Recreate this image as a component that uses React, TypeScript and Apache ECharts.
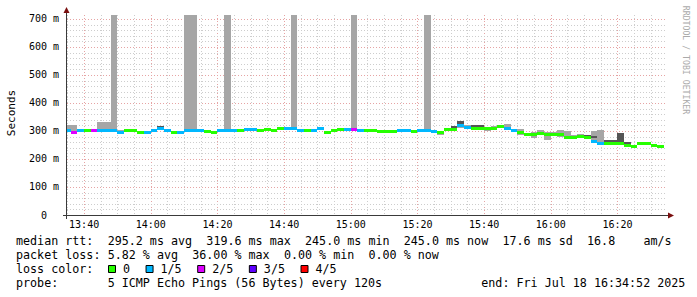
import React, { useEffect, useRef } from "react";
import * as echarts from "echarts";

// ---------------- data ----------------
const firstBin = "13:34";
const binMinutes = 2;
const viewStart = "13:34:52";
const viewEnd = "16:34:52";
const xTickLabels = ["13:40", "14:00", "14:20", "14:40", "15:00", "15:20", "15:40", "16:00", "16:20"];
const yTickValues = [0, 100, 200, 300, 400, 500, 600, 700];
const yMaxMs = 714;

// median rtt per 2-minute bin (ms)
const medianMs = [
  302, 296, 301, 301, 301, 301, 301, 303, 296, 301,
  300, 296, 296, 300, 309, 300, 296, 296, 303, 303,
  302, 297, 295, 300, 303, 301, 301, 305, 305, 302,
  304, 303, 308, 309, 309, 303, 303, 303, 308, 296,
  301, 306, 306, 304, 301, 302, 302, 298, 298, 299,
  300, 300, 299, 300, 300, 298, 293, 304, 307, 320,
  312, 309, 309, 308, 308, 316, 310, 300, 296, 287,
  288, 292, 288, 289, 289, 276, 278, 280, 276, 262,
  255, 257, 257, 257, 248, 246, 255, 255, 249, 245,
];
// lost pings (of 5) per bin
const lossCount = [
  1, 2, 1, 0, 2, 1, 1, 1, 1, 0,
  0, 0, 1, 1, 1, 1, 0, 1, 1, 1,
  1, 0, 0, 1, 1, 1, 0, 1, 1, 0,
  0, 0, 0, 1, 1, 1, 0, 1, 1, 0,
  0, 0, 1, 2, 1, 0, 0, 0, 0, 0,
  1, 1, 0, 1, 1, 1, 0, 0, 0, 1,
  1, 0, 0, 0, 0, 0, 1, 1, 0, 0,
  0, 0, 0, 0, 0, 0, 0, 0, 0, 1,
  1, 0, 0, 0, 0, 0, 0, 0, 0, 0,
];
// smoke (outer ping spread) per bin, ms
const smokeHiMs = [
  322, 321, 306, 306, 306, 333, 333, 760, 303, 304,
  307, 300, 300, 303, 318, 303, 300, 300, 760, 760,
  305, 301, 299, 303, 760, 304, 304, 308, 308, 305,
  307, 306, 311, 312, 760, 306, 306, 306, 311, 300,
  304, 309, 309, 760, 304, 305, 305, 301, 301, 303,
  303, 303, 302, 303, 760, 301, 299, 308, 316, 334,
  322, 321, 321, 315, 318, 320, 325, 306, 308, 292,
  298, 302, 298, 296, 302, 299, 284, 288, 283, 299,
  304, 268, 266, 292, 260, 249, 258, 258, 252, 248,
];
const smokeLoMs = [
  297, 293, 298, 298, 298, 298, 298, 299, 293, 298,
  297, 293, 293, 297, 303, 297, 293, 293, 299, 299,
  299, 294, 292, 297, 300, 298, 298, 302, 302, 299,
  301, 300, 304, 306, 305, 299, 300, 300, 304, 293,
  298, 302, 302, 300, 297, 298, 298, 295, 293, 296,
  297, 297, 296, 297, 297, 294, 286, 300, 304, 311,
  306, 306, 302, 300, 304, 312, 307, 297, 284, 284,
  274, 287, 268, 286, 280, 273, 274, 277, 273, 258,
  252, 254, 254, 254, 245, 243, 252, 252, 246, 242,
];
// inner (darker) smoke: [bin, lo, hi]
const darkSmoke = [
  [14, 309, 318], [23, 297, 299], [58, 307, 316], [59, 322, 334], [61, 315, 321],
  [62, 302, 321], [64, 306, 314], [72, 288, 294], [78, 276, 284], [79, 274, 283],
  [81, 258, 268], [82, 261, 266], [83, 262, 291], [84, 249, 260],
];
const lossColors = ["#26ff00", "#00b8ff", "#dd00ff", "#5e00ff", "#ff0000"];
const lossLabels = ["0", "1/5", "2/5", "3/5", "4/5"];
const yAxisTitle = "Seconds";
const watermark = "RRDTOOL / TOBI OETIKER";
const legendRows: [string, number][][] = [
  [["median rtt:", 0], ["295.2 ms avg", 13], ["319.6 ms max", 27], ["245.0 ms min", 41], ["245.0 ms now", 55], ["17.6 ms sd", 69], ["16.8", 81], ["am/s", 89]],
  [["packet loss:", 0], ["5.82 % avg", 13], ["36.00 % max", 25], ["0.00 % min", 38], ["0.00 % now", 50]],
  [["loss color:", 0]],
  [["probe:", 0], ["5 ICMP Echo Pings (56 Bytes) every 120s", 13], ["end: Fri Jul 18 16:34:52 2025", 66]],
];

// ---------------- helpers ----------------
const MONO = "'DejaVu Sans Mono', monospace";
const toMin = (t: string) => {
  const [h, m, s] = t.split(":").map(Number);
  return h * 60 + m + (s || 0) / 60;
};
const fmt = (v: number) => {
  const r = Math.round(v);
  return String(Math.floor(r / 60)).padStart(2, "0") + ":" + String(r % 60).padStart(2, "0");
};

export default function App() {
  const ref = useRef<HTMLDivElement>(null);
  useEffect(() => {
    if (!ref.current) return;
    const chart = echarts.init(ref.current, null, { renderer: "svg" });
    const xMin = toMin(viewStart);
    const xMax = toMin(viewEnd);
    const bin0 = toMin(firstBin);
    const binStart = medianMs.map((_, i) => bin0 + i * binMinutes);

    const majorX = xTickLabels.map(toMin);
    const gridItems: number[][] = [];
    for (let v = Math.ceil(xMin / 5) * 5; v < xMax; v += 5) {
      gridItems.push([0, v, majorX.includes(v) ? 1 : 0]);
    }
    for (let v = 20; v <= 700; v += 20) gridItems.push([1, v, v % 100 === 0 ? 1 : 0]);

    const rectItem = (params: any, api: any, x0v: number, x1v: number, lo: number, hi: number, fill: string) => {
      const a = api.coord([x0v, hi]);
      const b = api.coord([x1v, lo]);
      const x0 = Math.round(a[0]);
      const x1 = Math.round(b[0]);
      const y0 = Math.round(a[1]);
      const y1 = Math.round(b[1]);
      const shape = echarts.graphic.clipRectByRect(
        { x: x0, y: y0, width: x1 - x0, height: Math.max(1, y1 - y0) },
        params.coordSys
      );
      if (!shape) return null;
      return { type: "rect", shape, style: { fill }, silent: true };
    };

    const legendGraphics: any[] = [];
    legendRows.forEach((row, r) => {
      row.forEach(([text, col]) => {
        legendGraphics.push({
          type: "text",
          x: 16 + col * 7.05,
          y: 241 + r * 14,
          z: 100,
          style: { text, fontFamily: MONO, fontSize: 11.7, fill: "#000", align: "left", verticalAlign: "middle" },
        });
      });
    });
    let bx = 108;
    lossLabels.forEach((lab, i) => {
      legendGraphics.push({
        type: "rect",
        z: 100,
        shape: { x: bx + 0.5, y: 265.5, width: 7, height: 7 },
        style: { fill: lossColors[i], stroke: "#000", lineWidth: 1 },
      });
      const lx = bx + 15;
      legendGraphics.push({
        type: "text",
        x: lx,
        y: 269,
        z: 100,
        style: { text: lab, fontFamily: MONO, fontSize: 11.7, fill: "#000", align: "left", verticalAlign: "middle" },
      });
      bx = lx + lab.length * 7.05 + 15.5;
    });

    const option: any = {
      animation: false,
      backgroundColor: "#ffffff",
      textStyle: { fontFamily: MONO },
      grid: { left: 67, top: 15, width: 600, height: 200, containLabel: false, outerBoundsMode: "none" },
      xAxis: {
        type: "value",
        min: xMin,
        max: xMax,
        axisLine: { show: false },
        axisTick: { show: false },
        splitLine: { show: false },
        axisLabel: {
          customValues: majorX,
          formatter: (v: number) => fmt(v),
          fontFamily: MONO,
          fontSize: 10,
          color: "#000",
          margin: 4,
        },
      },
      yAxis: {
        type: "value",
        min: 0,
        max: yMaxMs,
        interval: 100,
        axisLine: { show: false },
        axisTick: { show: false },
        splitLine: { show: false },
        axisLabel: {
          showMaxLabel: false,
          formatter: (v: number) => (v === 0 ? "{z|0}" : yTickValues.includes(v) ? `${v} m` : ""),
          fontFamily: MONO,
          fontSize: 10,
          color: "#000",
          margin: 8,
          rich: { z: { fontFamily: MONO, fontSize: 10, color: "#000", padding: [0, 12, 0, 0] } },
        },
      },
      series: [
        {
          type: "custom",
          z: 1,
          silent: true,
          data: gridItems,
          renderItem: (params: any, api: any) => {
            const cs = params.coordSys;
            const kind = api.value(0);
            const v = api.value(1);
            const major = api.value(2);
            let shape: any;
            if (kind === 0) {
              const px = Math.round(api.coord([v, 0])[0]) + 0.5;
              shape = { x1: px, y1: cs.y, x2: px, y2: cs.y + cs.height };
            } else {
              const py = Math.round(api.coord([xMin, v])[1]) + 0.5;
              shape = { x1: cs.x, y1: py, x2: cs.x + cs.width, y2: py };
            }
            return {
              type: "line",
              shape,
              silent: true,
              style: { stroke: major ? "#e6a4a4" : "#cdcdcd", lineWidth: 1, lineDash: [1, 2] },
            };
          },
        },
        {
          type: "custom",
          z: 2,
          silent: true,
          data: binStart.map((s, i) => [s, s + binMinutes, smokeLoMs[i], smokeHiMs[i]]),
          encode: { x: [0, 1], y: [2, 3] },
          renderItem: (params: any, api: any) =>
            rectItem(params, api, api.value(0), api.value(1), api.value(2), api.value(3), "#a6a6a6"),
        },
        {
          type: "custom",
          z: 3,
          silent: true,
          data: darkSmoke.map(([b, lo, hi]) => [binStart[b], binStart[b] + binMinutes, lo, hi]),
          encode: { x: [0, 1], y: [2, 3] },
          renderItem: (params: any, api: any) =>
            rectItem(params, api, api.value(0), api.value(1), api.value(2), api.value(3), "#555555"),
        },
        {
          type: "custom",
          z: 4,
          silent: true,
          data: binStart.map((s, i) => [s, s + binMinutes, medianMs[i], lossCount[i]]),
          encode: { x: [0, 1], y: 2 },
          renderItem: (params: any, api: any) => {
            const a = api.coord([api.value(0), api.value(2)]);
            const b = api.coord([api.value(1), api.value(2)]);
            const x0 = Math.round(a[0]);
            const x1 = Math.round(b[0]);
            const shape = echarts.graphic.clipRectByRect(
              { x: x0, y: Math.round(a[1] - 1.5), width: x1 - x0, height: 3 },
              params.coordSys
            );
            if (!shape) return null;
            return { type: "rect", shape, silent: true, style: { fill: lossColors[api.value(3)] } };
          },
        },
      ],
      graphic: [
        {
          type: "text",
          x: 11,
          y: 113,
          rotation: Math.PI / 2,
          z: 100,
          style: { text: yAxisTitle, fontFamily: MONO, fontSize: 11, fill: "#000", align: "center", verticalAlign: "middle" },
        },
        {
          type: "text",
          x: 686,
          y: 60,
          rotation: -Math.PI / 2,
          z: 100,
          style: { text: watermark, fontFamily: MONO, fontSize: 8.2, fill: "#aaaaaa", align: "center", verticalAlign: "middle" },
        },
        { type: "line", z: 100, shape: { x1: 63, y1: 215.5, x2: 669, y2: 215.5 }, style: { stroke: "#3a3a3a", lineWidth: 1 } },
        { type: "line", z: 100, shape: { x1: 66.5, y1: 219, x2: 66.5, y2: 12 }, style: { stroke: "#3a3a3a", lineWidth: 1 } },
        { type: "polygon", z: 101, shape: { points: [[668, 212.5], [674, 215.5], [668, 218.5]] }, style: { fill: "#7a0f0f" } },
        { type: "polygon", z: 101, shape: { points: [[63.5, 13], [66.5, 7], [69.5, 13]] }, style: { fill: "#7a0f0f" } },
        ...legendGraphics,
      ],
    };
    chart.setOption(option);
    return () => chart.dispose();
  }, []);
  return <div ref={ref} style={{ position: "fixed", left: 0, top: 0, width: 697, height: 297 }} />;
}
